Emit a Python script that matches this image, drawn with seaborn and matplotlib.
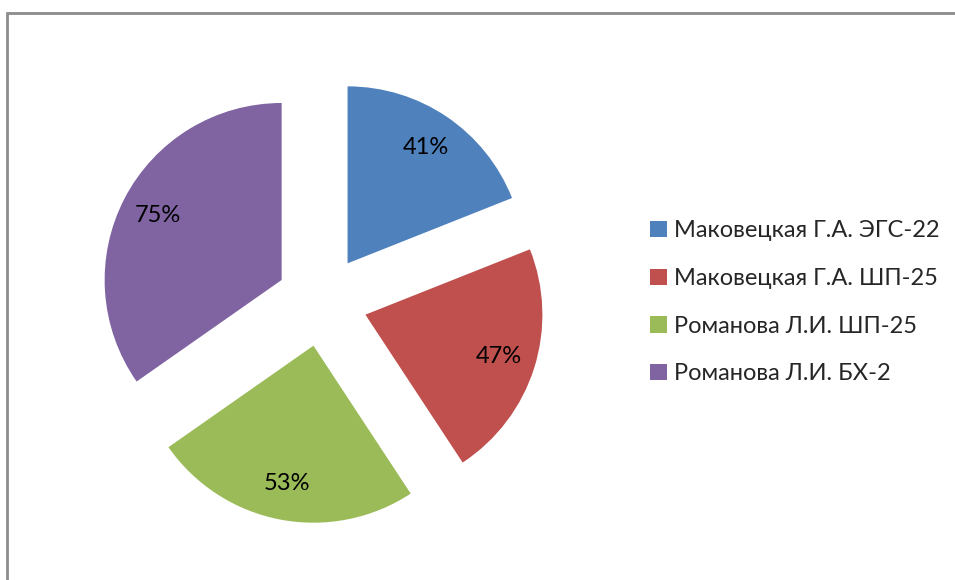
import matplotlib
matplotlib.use("Agg")
import matplotlib.pyplot as plt
from matplotlib.patches import Rectangle
import seaborn as sns

categories = ["Маковецкая Г.А. ЭГС-22", "Маковецкая Г.А. ШП-25",
              "Романова Л.И. ШП-25", "Романова Л.И. БХ-2"]
values = [41, 47, 53, 75]
colors = ["#4F81BD", "#C0504D", "#9BBB59", "#8064A2"]

sns.set_theme(style="white")
plt.rcParams["font.family"] = ["Lato", "DejaVu Sans"]

W, H = 955, 580
fig = plt.figure(figsize=(W / 100, H / 100), dpi=100)
ax = fig.add_axes([0, 0, 1, 1])

total = sum(values)
wedges, texts, autotexts = ax.pie(
    values,
    colors=sns.color_palette(colors),
    startangle=90,
    counterclock=False,
    explode=[45.5] * len(values),
    center=(322, H - 301),
    radius=177,
    autopct=lambda p: f"{round(p * total / 100)}%",
    pctdistance=0.79,
    textprops={"fontsize": 17, "color": "#000000"},
    wedgeprops={"linewidth": 0},
)
ax.set_xlim(0, W)
ax.set_ylim(0, H)
ax.set_aspect("equal")
ax.axis("off")

ax.legend(wedges, categories, loc="upper left",
          bbox_to_anchor=(641 / W, 1 - 211 / H),
          frameon=False, fontsize=17, handlelength=0.68, handleheight=0.68,
          handletextpad=0.3, labelspacing=1.13, borderaxespad=0)

fig.add_artist(Rectangle((6.5 / W, -0.1), 1.2, (H - 13.5) / H + 0.1,
                         transform=fig.transFigure, fill=False,
                         edgecolor="#8c8c8c", linewidth=2))

fig.savefig("out.png", dpi=100)
